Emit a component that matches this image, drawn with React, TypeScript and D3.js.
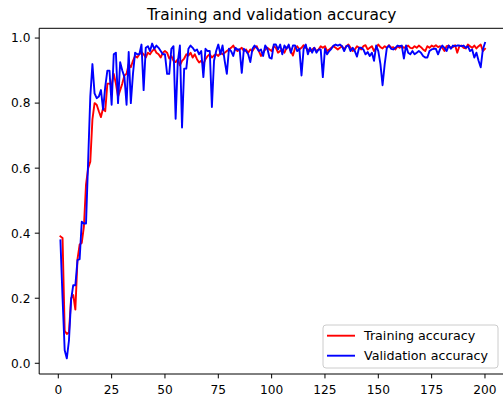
import React from "react";
import * as d3 from "d3";

const trainAcc = [
  0.39, 0.385, 0.10, 0.09, 0.095, 0.20, 0.21, 0.165, 0.32, 0.365,
  0.37, 0.42, 0.55, 0.60, 0.62, 0.75, 0.80, 0.795, 0.775, 0.757,
  0.785, 0.775, 0.86, 0.86, 0.855, 0.89, 0.86, 0.82, 0.84, 0.86,
  0.885, 0.89, 0.92, 0.91, 0.93, 0.945, 0.94, 0.95, 0.957, 0.95,
  0.94, 0.955, 0.95, 0.96, 0.967, 0.955, 0.95, 0.94, 0.955, 0.96,
  0.955, 0.937, 0.945, 0.93, 0.926, 0.935, 0.916, 0.93, 0.937, 0.95,
  0.946, 0.955, 0.94, 0.95, 0.935, 0.925, 0.93, 0.92, 0.935, 0.945,
  0.95, 0.94, 0.947, 0.95, 0.945, 0.955, 0.95, 0.955, 0.96, 0.965,
  0.97, 0.977, 0.965, 0.96, 0.965, 0.97, 0.96, 0.965, 0.955, 0.965,
  0.96, 0.97, 0.975, 0.96, 0.945, 0.955, 0.965, 0.97, 0.965, 0.96,
  0.975, 0.97, 0.955, 0.96, 0.965, 0.955, 0.97, 0.975, 0.96, 0.946,
  0.97, 0.975, 0.965, 0.97, 0.978, 0.97, 0.965, 0.96, 0.965, 0.97,
  0.96, 0.965, 0.975, 0.97, 0.975, 0.96, 0.965, 0.97, 0.975, 0.97,
  0.965, 0.97, 0.975, 0.965, 0.975, 0.98, 0.97, 0.96, 0.965, 0.975,
  0.97, 0.965, 0.975, 0.978, 0.965, 0.97, 0.975, 0.96, 0.97, 0.98,
  0.972, 0.968, 0.975, 0.97, 0.978, 0.97, 0.972, 0.965, 0.975, 0.97,
  0.975, 0.97, 0.973, 0.977, 0.97, 0.968, 0.975, 0.97, 0.977, 0.972,
  0.965, 0.96, 0.975, 0.97, 0.977, 0.973, 0.978, 0.972, 0.975, 0.97,
  0.96, 0.975, 0.977, 0.97, 0.972, 0.978, 0.955, 0.975, 0.977, 0.97,
  0.968, 0.98, 0.975, 0.97, 0.977, 0.968, 0.975, 0.98, 0.96, 0.967,
];

const valAcc = [
  0.378, 0.20, 0.04, 0.015, 0.07, 0.195, 0.24, 0.24, 0.317, 0.32,
  0.435, 0.43, 0.43, 0.624, 0.82, 0.92, 0.83, 0.815, 0.82, 0.84,
  0.78, 0.85, 0.90, 0.90, 0.795, 0.95, 0.955, 0.80, 0.926, 0.90,
  0.88, 0.795, 0.957, 0.80, 0.89, 0.955, 0.95, 0.95, 0.98, 0.84,
  0.97, 0.975, 0.96, 0.983, 0.967, 0.977, 0.97, 0.96, 0.95, 0.95,
  0.89, 0.89, 0.967, 0.975, 0.752, 0.926, 0.977, 0.725, 0.906, 0.906,
  0.967, 0.977, 0.97, 0.96, 0.965, 0.95, 0.96, 0.88, 0.967, 0.96,
  0.96, 0.788, 0.93, 0.96, 0.98, 0.95, 0.977, 0.93, 0.89, 0.967,
  0.96, 0.945, 0.97, 0.965, 0.965, 0.893, 0.967, 0.96, 0.95, 0.926,
  0.967, 0.977, 0.97, 0.96, 0.965, 0.945, 0.977, 0.967, 0.94, 0.937,
  0.98, 0.98, 0.965, 0.98, 0.95, 0.977, 0.967, 0.98, 0.955, 0.977,
  0.977, 0.96, 0.967, 0.885, 0.967, 0.98, 0.95, 0.97, 0.955, 0.97,
  0.955, 0.965, 0.965, 0.88, 0.967, 0.95, 0.96, 0.967, 0.977, 0.98,
  0.977, 0.98, 0.975, 0.96, 0.975, 0.977, 0.96, 0.97, 0.96, 0.943,
  0.97, 0.97, 0.965, 0.95, 0.957, 0.945, 0.955, 0.93, 0.977, 0.96,
  0.92, 0.855, 0.92, 0.97, 0.977, 0.967, 0.965, 0.97, 0.977, 0.975,
  0.977, 0.937, 0.977, 0.955, 0.95, 0.96, 0.95, 0.955, 0.96, 0.955,
  0.945, 0.94, 0.94, 0.96, 0.965, 0.967, 0.967, 0.95, 0.967, 0.977,
  0.97, 0.96, 0.977, 0.967, 0.977, 0.975, 0.977, 0.977, 0.975, 0.977,
  0.97, 0.975, 0.96, 0.965, 0.94, 0.955, 0.93, 0.91, 0.965, 0.985,
];

const xTicks = [0, 25, 50, 75, 100, 125, 150, 175, 200];
const yTicks = [0.0, 0.2, 0.4, 0.6, 0.8, 1.0];
const title = "Training and validation accuracy";
const seriesLabels = ["Training accuracy", "Validation accuracy"];
const seriesColors = ["#ff0000", "#0000ff"];

const W = 503;
const H = 402;
const FONT = "DejaVu Sans, sans-serif";

export default function App() {
  const left = 39.2;
  const right = 506.2;
  const top = 28.3;
  const bottom = 374;
  const x = d3.scaleLinear().domain([-8.95, 209.95]).range([left, right]);
  const y = d3.scaleLinear().domain([-0.033, 1.03]).range([bottom, top]);

  const line = d3
    .line<number>()
    .x((_, i) => x(i + 1))
    .y((d) => y(d));

  const series = [trainAcc, valAcc];

  return (
    <svg
      width={W}
      height={H}
      style={{ position: "absolute", left: 0, top: 0, background: "#fff" }}
      fontFamily={FONT}
    >
      <rect x={0} y={0} width={W} height={H} fill="#fff" />
      <defs>
        <clipPath id="plot">
          <rect x={left} y={top} width={right - left} height={bottom - top} />
        </clipPath>
      </defs>
      <text x={(left + right) / 2 - 1} y={20} textAnchor="middle" fontSize={15.4} fill="#000">
        {title}
      </text>
      <g clipPath="url(#plot)">
        {series.map((s, k) => (
          <path
            key={k}
            d={line(s) || ""}
            fill="none"
            stroke={seriesColors[k]}
            strokeWidth={1.9}
            strokeLinejoin="round"
            strokeLinecap="square"
          />
        ))}
      </g>
      <line x1={left} x2={left} y1={top} y2={bottom} stroke="#000" strokeWidth={1} />
      <line x1={left} x2={right} y1={bottom} y2={bottom} stroke="#000" strokeWidth={1} />
      <line x1={left} x2={right} y1={top} y2={top} stroke="#000" strokeWidth={1} />
      {xTicks.map((t) => (
        <g key={t}>
          <line x1={x(t)} x2={x(t)} y1={bottom} y2={bottom + 4.4} stroke="#000" strokeWidth={1} />
          <text x={x(t)} y={394} textAnchor="middle" fontSize={12.2} fill="#000">
            {t}
          </text>
        </g>
      ))}
      {yTicks.map((t) => (
        <g key={t}>
          <line x1={left - 4.4} x2={left} y1={y(t)} y2={y(t)} stroke="#000" strokeWidth={1} />
          <text
            x={left - 8.8}
            y={y(t)}
            dy="0.36em"
            textAnchor="end"
            fontSize={12.2}
            fill="#000"
          >
            {t.toFixed(1)}
          </text>
        </g>
      ))}
      <rect
        x={323}
        y={325}
        width={175}
        height={43}
        rx={3}
        fill="#fff"
        fillOpacity={0.8}
        stroke="#cccccc"
        strokeWidth={1}
      />
      {seriesLabels.map((lab, k) => (
        <g key={lab}>
          <line
            x1={327}
            x2={355}
            y1={335.7 + k * 20}
            y2={335.7 + k * 20}
            stroke={seriesColors[k]}
            strokeWidth={1.9}
          />
          <text x={364} y={335.7 + k * 20} dy="0.36em" fontSize={12.7} fill="#000">
            {lab}
          </text>
        </g>
      ))}
    </svg>
  );
}
